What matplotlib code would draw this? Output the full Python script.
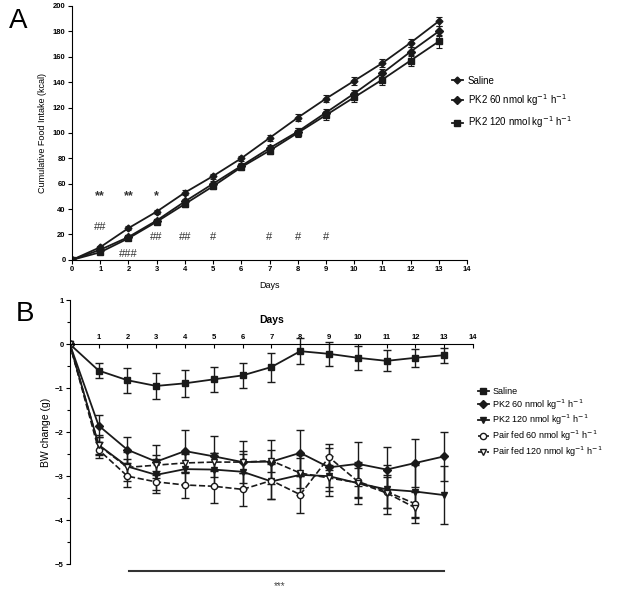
import numpy as np
import matplotlib.pyplot as plt
from matplotlib.ticker import MultipleLocator

plt.rcParams['font.family'] = ['Liberation Sans', 'DejaVu Sans']

# panel A: cumulative food intake (kcal)
days_a = list(range(14))
saline_a = [0, 10, 25, 38, 53, 66, 80, 96, 112, 127, 141, 155, 171, 188]
pk60_a = [0, 8, 18, 31, 46, 60, 74, 88, 101, 116, 131, 147, 164, 180]
pk120_a = [0, 6, 17, 30, 44, 58, 73, 86, 100, 114, 128, 142, 157, 172]
saline_a_err = [0, 1, 1.5, 1.5, 2, 2, 2, 2.5, 2.5, 3, 3, 3, 3, 3.5]
pk60_a_err = [0, 1, 1.5, 1.5, 2, 2, 2, 2.5, 3, 3, 3, 3.5, 3.5, 4]
pk120_a_err = [0, 1, 1.5, 2, 2, 2, 2.5, 3, 3.5, 3.5, 4, 4, 4.5, 5]
labels_a = ['Saline', 'PK2 60 nmol kg$^{-1}$ h$^{-1}$', 'PK2 120 nmol kg$^{-1}$ h$^{-1}$']
stars_a = [(1, 50, '**'), (2, 50, '**'), (3, 50, '*')]
hash_a = [(1, 26, '##'), (2, 5, '###'), (3, 18, '##'), (4, 18, '##'),
          (5, 18, '#'), (7, 18, '#'), (8, 18, '#'), (9, 18, '#')]

# panel B: body weight change (g)
days_b = list(range(14))
days_pf = list(range(13))
saline_b = [0, -0.6, -0.82, -0.95, -0.89, -0.8, -0.71, -0.52, -0.16, -0.22, -0.31, -0.38, -0.31, -0.25]
pk60_b = [0, -1.85, -2.4, -2.67, -2.43, -2.55, -2.68, -2.67, -2.47, -2.8, -2.72, -2.85, -2.7, -2.55]
pk120_b = [0, -2.29, -2.78, -2.97, -2.84, -2.85, -2.9, -3.12, -2.97, -3.0, -3.16, -3.3, -3.35, -3.43]
pf60_b = [0, -2.4, -3.0, -3.13, -3.2, -3.23, -3.3, -3.1, -3.42, -2.57, -3.12, -3.35, -3.63]
pf120_b = [0, -2.3, -2.8, -2.75, -2.7, -2.68, -2.68, -2.65, -2.93, -3.04, -3.15, -3.38, -3.72]
saline_b_err = [0, 0.18, 0.28, 0.3, 0.3, 0.28, 0.28, 0.33, 0.3, 0.28, 0.27, 0.24, 0.2, 0.17]
pk60_b_err = [0, 0.25, 0.3, 0.38, 0.48, 0.47, 0.47, 0.5, 0.52, 0.45, 0.5, 0.52, 0.55, 0.56]
pk120_b_err = [0, 0.22, 0.32, 0.35, 0.35, 0.38, 0.4, 0.4, 0.45, 0.45, 0.48, 0.56, 0.6, 0.65]
pf60_b_err = [0, 0.18, 0.25, 0.25, 0.3, 0.37, 0.37, 0.42, 0.42, 0.3, 0.38, 0.38, 0.3]
pf120_b_err = [0, 0.2, 0.2, 0.22, 0.22, 0.2, 0.25, 0.25, 0.35, 0.3, 0.33, 0.35, 0.35]
labels_b = ['Saline', 'PK2 60 nmol kg$^{-1}$ h$^{-1}$', 'PK2 120 nmol kg$^{-1}$ h$^{-1}$',
            'Pair fed 60 nmol kg$^{-1}$ h$^{-1}$', 'Pair fed 120 nmol kg$^{-1}$ h$^{-1}$']

ink = '#1a1a1a'
fig = plt.figure(figsize=(6.29, 5.92), dpi=100)

# ---- A ----
ax = fig.add_axes([0.1145, 0.561, 0.628, 0.429])
series_a = [(saline_a, saline_a_err, 'D', 3.5), (pk60_a, pk60_a_err, 'D', 4.5), (pk120_a, pk120_a_err, 's', 4.5)]
handles_a = []
for (y, e, m, ms), lab in zip(series_a, labels_a):
    c = ax.errorbar(days_a, y, yerr=e, color=ink, marker=m, ms=ms, lw=1.3,
                    capsize=2.5, elinewidth=0.8, capthick=0.8, label=lab)
    handles_a.append(c.lines[0])
for x, y, t in stars_a:
    ax.text(x, y, t, ha='center', va='center', fontsize=9, fontweight='bold', color='#333333')
for x, y, t in hash_a:
    ax.text(x, y, t, ha='center', va='center', fontsize=8, color='#333333')
ax.set_xlim(0, 14)
ax.set_ylim(0, 200)
ax.xaxis.set_major_locator(MultipleLocator(1))
ax.yaxis.set_major_locator(MultipleLocator(20))
ax.spines['top'].set_visible(False)
ax.spines['right'].set_visible(False)
ax.tick_params(labelsize=5.5, length=3, width=0.8, pad=1.5)
for t in ax.get_xticklabels() + ax.get_yticklabels():
    t.set_fontweight('bold')
ax.set_xlabel('Days', fontsize=6.5, labelpad=6)
ax.set_ylabel('Cumulative Food Intake (kcal)', fontsize=6.5, labelpad=4)
ax.legend(handles_a, labels_a, loc='upper left', bbox_to_anchor=(0.962, 0.725), frameon=False,
          fontsize=7, handlelength=1.1, handletextpad=0.5, labelspacing=0.65,
          borderaxespad=0, borderpad=0)
fig.text(0.015, 0.965, 'A', fontsize=20, va='center')

# ---- B ----
bx = fig.add_axes([0.111, 0.047, 0.641, 0.446])
handles_b = []
c = bx.errorbar(days_b, saline_b, yerr=saline_b_err, color=ink, marker='s', ms=5, lw=1.3,
                capsize=3, elinewidth=1)
handles_b.append(c.lines[0])
c = bx.errorbar(days_b, pk60_b, yerr=pk60_b_err, color=ink, marker='D', ms=4, lw=1.3,
                capsize=3, elinewidth=1)
handles_b.append(c.lines[0])
c = bx.errorbar(days_b, pk120_b, yerr=pk120_b_err, color=ink, marker='v', ms=4.5, lw=1.3,
                capsize=3, elinewidth=1)
handles_b.append(c.lines[0])
c = bx.errorbar(days_pf, pf60_b, yerr=pf60_b_err, color=ink, marker='o', ms=4.5, lw=1.2, ls='--',
                mfc='white', capsize=3, elinewidth=1)
handles_b.append(c.lines[0])
c = bx.errorbar(days_pf, pf120_b, yerr=pf120_b_err, color=ink, marker='v', ms=5, lw=1.2, ls='--',
                mfc='white', capsize=3, elinewidth=1)
handles_b.append(c.lines[0])
bx.set_xlim(0, 14)
bx.set_ylim(-5, 1)
bx.spines['right'].set_visible(False)
bx.spines['bottom'].set_visible(False)
bx.spines['top'].set_position(('data', 0))
bx.xaxis.set_ticks_position('top')
bx.xaxis.set_label_position('top')
bx.set_xticks(range(1, 15))
bx.yaxis.set_major_locator(MultipleLocator(1))
bx.yaxis.set_minor_locator(MultipleLocator(0.5))
bx.tick_params(axis='x', direction='in', labelsize=5.5, length=3, width=0.8, pad=2)
bx.tick_params(axis='y', labelsize=5.5, length=3, width=0.8, pad=1.5)
bx.tick_params(axis='y', which='minor', length=2, width=0.8)
for t in bx.get_xticklabels() + bx.get_yticklabels():
    t.set_fontweight('bold')
bx.set_xlabel('Days', fontsize=7.5, fontweight='bold', labelpad=8)
bx.set_ylabel('BW change (g)', fontsize=7.5, labelpad=3)
bx.plot([2.07, 13], [-5.15, -5.15], color='#333333', lw=1.5, clip_on=False)
bx.text(7.3, -5.5, '***', ha='center', va='center', fontsize=7, color='#444444')
bx.legend(handles_b, labels_b, loc='upper left', bbox_to_anchor=(1.012, 0.672), frameon=False,
          fontsize=6.5, handlelength=1.2, handletextpad=0.4, labelspacing=0.15,
          borderaxespad=0, borderpad=0)
fig.text(0.025, 0.47, 'B', fontsize=20, va='center')

fig.savefig('out.png', dpi=100)
